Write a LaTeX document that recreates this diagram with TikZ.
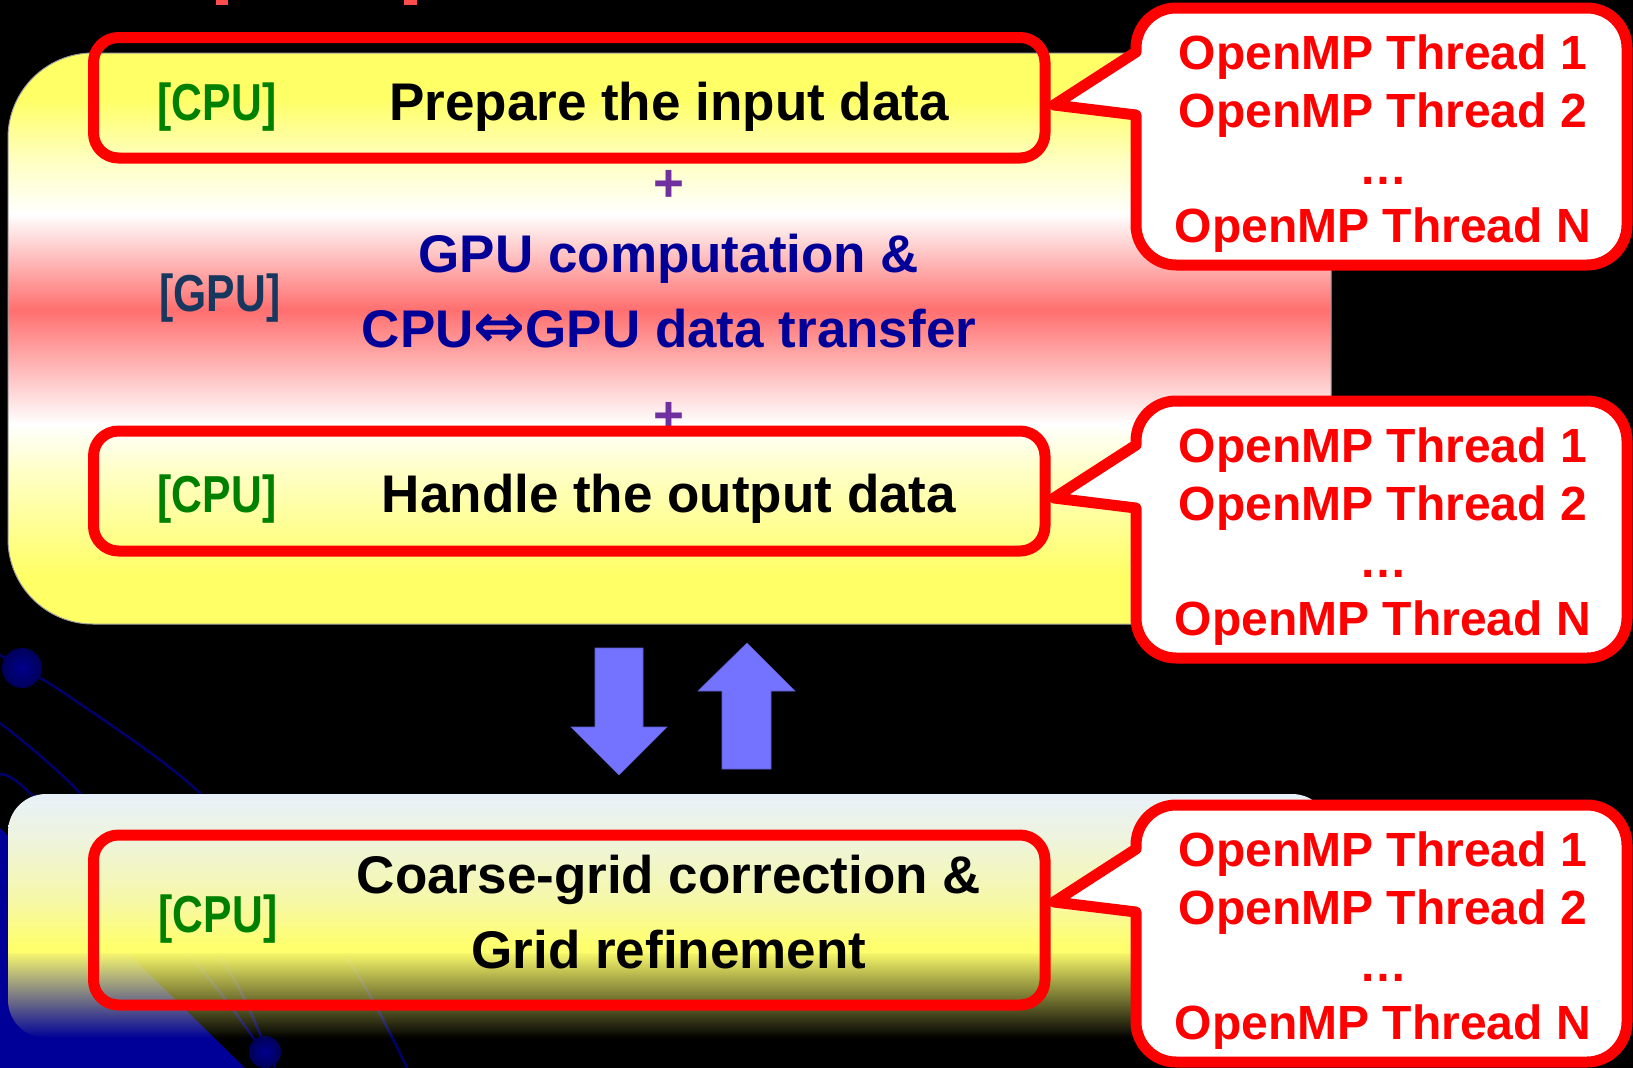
\documentclass[tikz,border=0pt]{standalone}
\usepackage{fontspec}
\setmainfont{Liberation Sans}
\newfontfamily\narrowfont[FakeStretch=0.82]{Liberation Sans}
\newfontfamily\symfont{DejaVu Sans}
\usetikzlibrary{fadings}

\definecolor{topyel}{HTML}{FFFF66}
\definecolor{paleyel}{HTML}{FFFFC8}
\definecolor{paleyelb}{HTML}{FFFFC0}
\definecolor{pinkred}{HTML}{FF6F6F}
\definecolor{bottop}{HTML}{E8F1FA}
\definecolor{botmid}{HTML}{EEF4DC}
\definecolor{botpale}{HTML}{F6F8A8}
\definecolor{botyel}{HTML}{FFFF6E}
\definecolor{cpugreen}{HTML}{008000}
\definecolor{gpunavy}{HTML}{17375E}
\definecolor{gpublue}{HTML}{000099}
\definecolor{plusviolet}{HTML}{7030A0}
\definecolor{arrowblue}{HTML}{7373FF}
\definecolor{decoblue}{HTML}{000099}
\definecolor{decoink}{HTML}{00006A}
\definecolor{markred}{HTML}{FF4D4D}
\definecolor{panelgray}{HTML}{A0A0A0}

\pgfdeclareverticalshading{toppanelshade}{100bp}{color(0bp)=(topyel); color(25bp)=(topyel); color(29.3bp)=(topyel); color(38.5bp)=(paleyel); color(42.5bp)=(white); color(52.5bp)=(pinkred); color(60.9bp)=(white); color(65.7bp)=(paleyelb); color(71bp)=(topyel); color(100bp)=(topyel)}
\pgfdeclareverticalshading{botpanelshade}{100bp}{color(0bp)=(botyel); color(25bp)=(botyel); color(27.2bp)=(botyel); color(41.5bp)=(botpale); color(60.4bp)=(botmid); color(75bp)=(bottop); color(100bp)=(bottop)}
\tikzfading[name=fadedown, top color=transparent!0, bottom color=transparent!100]

\begin{document}
\begin{tikzpicture}[x=1pt,y=-1pt,
  redbox/.style={draw=red, line width=11pt, rounded corners=25pt, inner sep=0pt},
  callout/.style={draw=red, fill=white, line width=11pt, line join=round},
  cpulabel/.style={text=cpugreen, inner sep=0pt, font=\fontsize{52}{62}\selectfont\narrowfont\bfseries},
  gpulabel/.style={text=gpunavy, inner sep=0pt, font=\fontsize{52}{62}\selectfont\narrowfont\bfseries},
  maintext/.style={text=black, inner sep=0pt, align=center, font=\fontsize{53}{75}\selectfont\bfseries},
  gputext/.style={text=gpublue, inner sep=0pt, align=center, font=\fontsize{53}{75}\selectfont\bfseries},
  plussign/.style={text=plusviolet, inner sep=0pt, font=\fontsize{53}{60}\selectfont\bfseries},
  threadtext/.style={text=red, inner sep=0pt, align=center, font=\fontsize{48}{57.5}\selectfont\bfseries},
  bigarrow/.style={fill=arrowblue, draw=arrowblue!80!black, line width=0.6pt},
  decostroke/.style={draw=decoink, line width=2.5pt}]

\useasboundingbox (0,0) rectangle (1633,1068);
\fill[black] (0,0) rectangle (1633,1068);

% remnants of text cut at the top edge
\fill[markred] (216,0) rectangle (228,4.5);
\fill[markred] (404,0) rectangle (417,4.5);

% background decoration
\fill[decoblue] (0,828) -- (245,1068) -- (0,1068) -- cycle;
\draw[decostroke] plot[smooth] coordinates {(0,655) (22,668) (70,697) (200,793) (343,953) (407,1068)};
\draw[decostroke] plot[smooth] coordinates {(0,723) (80,793) (217,953) (263,1040) (275,1068)};
\draw[decostroke] plot[smooth] coordinates {(0,775) (30,793) (187,953) (257,1043) (268,1068)};
\shade[inner color=blue!55!black, outer color=blue!35!black] (22,668) circle[radius=20];
\shade[inner color=blue!55!black, outer color=blue!35!black] (265,1052) circle[radius=16];

% upper panel
\shadedraw[shading=toppanelshade, draw=panelgray, line width=1pt, rounded corners=85pt] (8,53) rectangle (1331,624);

% lower panel (fades out at the bottom)
\begin{scope}
  \clip[rounded corners=38pt] (8,794) rectangle (1330,1038);
  \fill[botyel, path fading=fadedown] (8,950) rectangle (1330,1038);
  \shade[shading=botpanelshade] (8,794) rectangle (1330,952);
\end{scope}

% plus signs
\node[plussign] (plus1) at (669,186) {+};
\node[plussign] (plus2) at (669,418) {+};

% red boxes
\node[redbox, minimum width=951.5pt, minimum height=120.5pt] (box1) at (569.25,97.75) {};
\node[redbox, minimum width=951.5pt, minimum height=120pt] (box2) at (569.25,491) {};
\node[redbox, minimum width=951.5pt, minimum height=170pt] (box3) at (569.25,920) {};

% texts
\node[cpulabel, anchor=base] (cpu1) at (217,120) {[CPU]};
\node[maintext, anchor=base] (txt1) at (669,120) {Prepare the input data};
\node[gpulabel, anchor=base] (gpu) at (220,311) {[GPU]};
\node[gputext] (txt2) at (669,291.5) {GPU computation \&\\CPU{\symfont\bfseries\fontsize{62}{62}\selectfont ⇔}GPU data transfer};
\node[cpulabel, anchor=base] (cpu2) at (217,512) {[CPU]};
\node[maintext, anchor=base] (txt3) at (669,512) {Handle the output data};
\node[cpulabel, anchor=base] (cpu3) at (218,932) {[CPU]};
\node[maintext] (txt4) at (669,912.5) {Coarse-grid correction \&\\Grid refinement};

% arrows between the panels
\path[bigarrow] (595,648) -- (643,648) -- (643,727) -- (667,727) -- (619,775) -- (571,727) -- (595,727) -- cycle;
\path[bigarrow] (747,643) -- (795,691) -- (771,691) -- (771,769) -- (722,769) -- (722,691) -- (698,691) -- cycle;

% callouts
\foreach \T in {8,401,805} {
  \filldraw[callout] (1054,\T+97) -- (1136,\T+44) -- (1136,\T+40)
    arc[start angle=180, end angle=270, radius=40] -- (1587,\T)
    arc[start angle=270, end angle=360, radius=40] -- (1627,\T+217)
    arc[start angle=0, end angle=90, radius=40] -- (1176,\T+257)
    arc[start angle=90, end angle=180, radius=40] -- (1136,\T+107) -- cycle;
}
\node[threadtext] (thr1) at (1383,143.5) {OpenMP Thread 1\\OpenMP Thread 2\\…\\OpenMP Thread N};
\node[threadtext] (thr2) at (1383,536.5) {OpenMP Thread 1\\OpenMP Thread 2\\…\\OpenMP Thread N};
\node[threadtext] (thr3) at (1383,940.5) {OpenMP Thread 1\\OpenMP Thread 2\\…\\OpenMP Thread N};
\end{tikzpicture}
\end{document}
